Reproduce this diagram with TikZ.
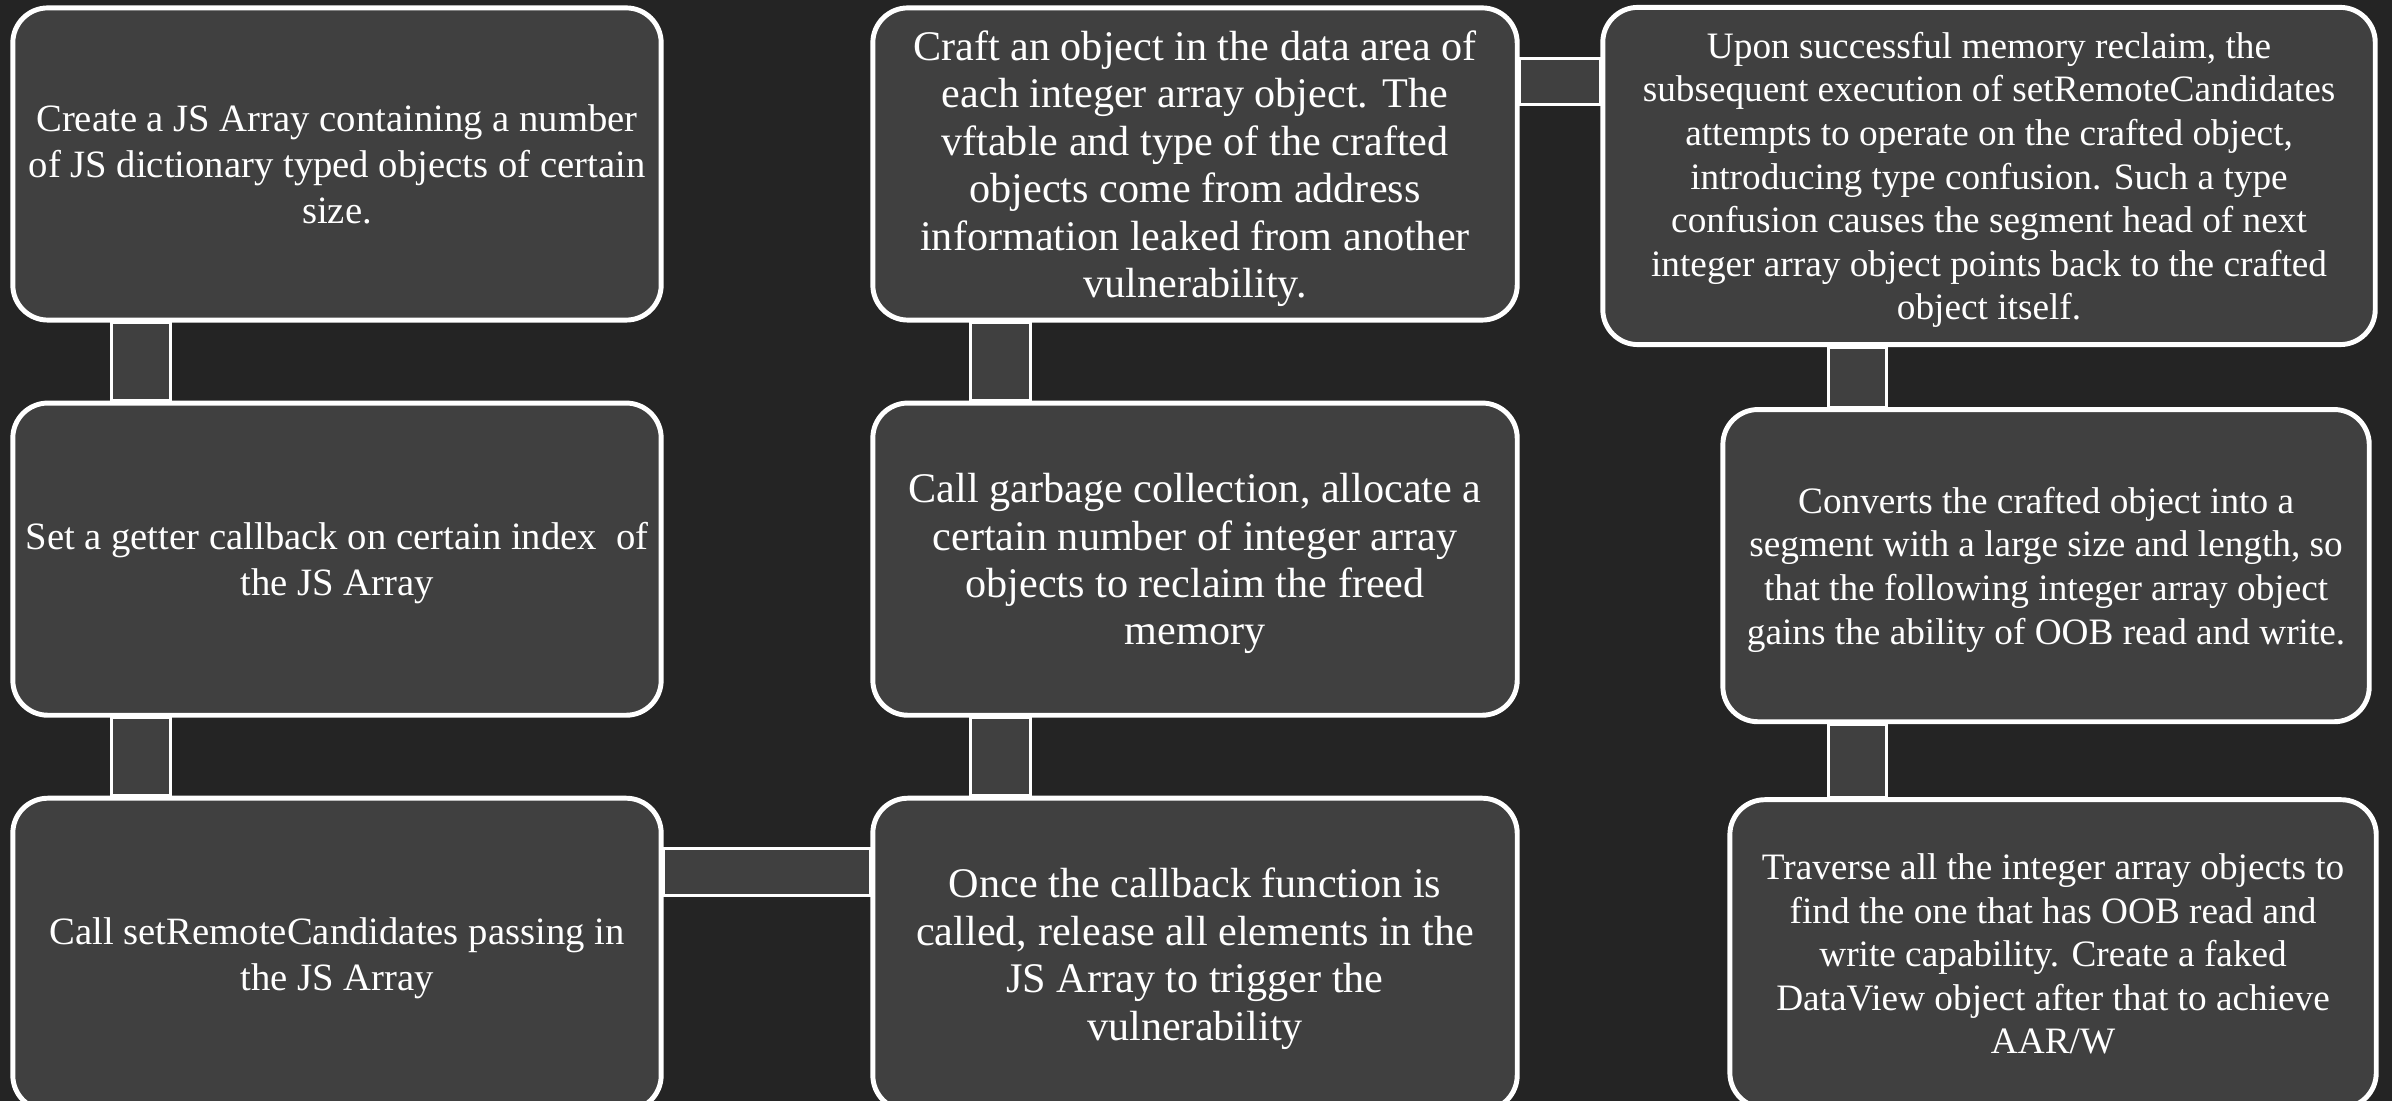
\documentclass[tikz,border=0pt]{standalone}
\usepackage{fontspec}
\setmainfont{Liberation Serif}
\usepackage{tikz}
\usetikzlibrary{positioning,calc,backgrounds}
\definecolor{bgdark}{HTML}{242424}
\definecolor{boxgray}{HTML}{404040}

\begin{document}
\begin{tikzpicture}[
  x=0.01cm, y=-0.01cm,
  blk/.style={draw=white, line width=1.4pt, fill=boxgray, rounded corners=0.35cm, text=white, align=center, inner sep=0pt, text depth=-1.5pt},
  l/.style={blk, minimum width=6.48cm, minimum height=3.12cm, font=\fontsize{11}{13}\selectfont},
  m/.style={blk, minimum width=6.44cm, minimum height=3.12cm, font=\fontsize{12}{13.5}\selectfont},
  r/.style={blk, minimum width=6.46cm, minimum height=3.12cm, font=\fontsize{10.6}{12.4}\selectfont},
  bar/.style={draw=white, line width=0.85pt, fill=boxgray}
]
\begin{scope}[on background layer]
  \fill[bgdark] (0,0) rectangle (2392,1101);
\end{scope}
\useasboundingbox (0,0) rectangle (2392,1101);

% left column
\node[l] (arr) at (337,164) {Create a JS Array containing a number\\of JS dictionary typed objects of certain\\size.};
\node[l, below=0.78cm of arr] (get) {Set a getter callback on certain index\ \ of\\the JS Array};
\node[l, below=0.78cm of get] (call) {Call setRemoteCandidates passing in\\the JS Array};

% middle column
\node[m] (craft) at (1195,164) {Craft an object in the data area of\\each integer array object. The\\vftable and type of the crafted\\objects come from address\\information leaked from another\\vulnerability.};
\node[m, below=0.78cm of craft] (gc) {Call garbage collection, allocate a\\certain number of integer array\\objects to reclaim the freed\\memory};
\node[m, below=0.78cm of gc] (rel) {Once the callback function is\\called, release all elements in the\\JS Array to trigger the\\vulnerability};

% right column
\node[r, minimum width=7.72cm, minimum height=3.37cm] (conf) at (1989,176) {Upon successful memory reclaim, the\\subsequent execution of setRemoteCandidates\\attempts to operate on the crafted object,\\introducing type confusion. Such a type\\confusion causes the segment head of next\\integer array object points back to the crafted\\object itself.};
\node[r, below=0.6cm of conf, xshift=0.57cm] (seg) {Converts the crafted object into a\\segment with a large size and length, so\\that the following integer array object\\gains the ability of OOB read and write.};
\node[r, minimum height=3.08cm, below=0.73cm of seg, xshift=0.07cm] (trav) {Traverse all the integer array objects to\\find the one that has OOB read and\\write capability. Create a faked\\DataView object after that to achieve\\AAR/W};

\begin{scope}[on background layer]
  \draw[bar] ($(arr.south west)+(101,0)$) rectangle ($(get.north west)+(160,0)$);
  \draw[bar] ($(get.south west)+(101,0)$) rectangle ($(call.north west)+(160,0)$);
  \draw[bar] ($(call.north east)+(0,53)$) rectangle ($(rel.north west)+(0,100)$);
  \draw[bar] ($(gc.south west)+(100,0)$) rectangle ($(rel.north west)+(160,0)$);
  \draw[bar] ($(craft.south west)+(100,0)$) rectangle ($(gc.north west)+(160,0)$);
  \draw[bar] ($(craft.north east)+(0,53)$) rectangle ($(conf.north west)+(0,100)$);
  \draw[bar] ($(conf.south west)+(228,0)$) rectangle ($(seg.north west)+(166,0)$);
  \draw[bar] ($(seg.south west)+(108,0)$) rectangle ($(trav.north west)+(159,0)$);
\end{scope}
\end{tikzpicture}
\end{document}
